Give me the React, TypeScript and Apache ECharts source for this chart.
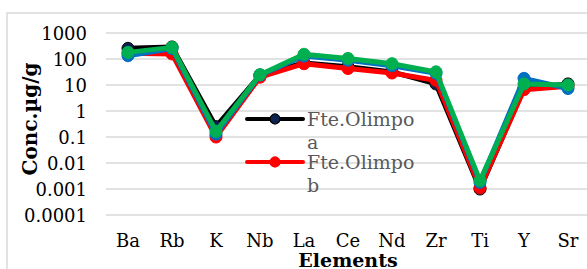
import React, { useEffect, useRef } from "react";
import * as echarts from "echarts";

const categories = ["Ba", "Rb", "K", "Nb", "La", "Ce", "Nd", "Zr", "Ti", "Y", "Sr"];
const seriesA = [257, 290, 0.25, 24, 70, 50, 32, 11, 0.001, 7.5, 11];
const seriesB = [165, 157, 0.1, 20, 66, 43, 29, 15, 0.0011, 6.6, 9];
const seriesC = [134, 250, 0.13, 24, 130, 90, 55, 28, 0.0018, 18, 7.3];
const seriesD = [180, 280, 0.165, 25, 152, 105, 66, 32, 0.0021, 11, 10];
const yTickLabels = ["0.0001", "0.001", "0.01", "0.1", "1", "10", "100", "1000"];
const legendNames = ["Fte.Olimpo a", "Fte.Olimpo b"];

const SERIF = "'DejaVu Serif', Georgia, serif";

export default function App() {
  const ref = useRef<HTMLDivElement>(null);
  useEffect(() => {
    if (!ref.current) return;
    const chart = echarts.init(ref.current, undefined, { renderer: "svg" });
    const mk = (name: string, data: number[], color: string, fill: string, z: number) => ({
      name,
      type: "line",
      data,
      z,
      symbol: "circle",
      symbolSize: 12,
      lineStyle: { color, width: 5 },
      itemStyle: { color: fill, borderColor: color, borderWidth: 1 },
    });
    const legendItem = (y: number, color: string, fill: string, name: string) => {
      const parts = name.split(" ");
      return [
        { type: "line", shape: { x1: 247, y1: y, x2: 303, y2: y }, style: { stroke: color, lineWidth: 4, lineCap: "round" }, z: 100 },
        { type: "circle", shape: { cx: 275, cy: y, r: 5 }, style: { fill, stroke: color, lineWidth: 1.2 }, z: 101 },
        { type: "text", x: 307, y: y + 9, style: { text: parts[0], font: `19px ${SERIF}`, lineHeight: 19, fill: "#595959", textAlign: "left", textVerticalAlign: "bottom" }, z: 101 },
        { type: "text", x: 307, y: y + 32, style: { text: parts[1], font: `19px ${SERIF}`, lineHeight: 19, fill: "#595959", textAlign: "left", textVerticalAlign: "bottom" }, z: 101 },
      ];
    };
    chart.setOption({
      animation: false,
      backgroundColor: "#fff",
      grid: { left: 106, right: -3, top: 33, bottom: 54, containLabel: false, outerBoundsMode: "none" },
      xAxis: {
        type: "category",
        data: categories,
        boundaryGap: true,
        axisLine: { show: false },
        axisTick: { show: false },
        axisLabel: { color: "#000", fontFamily: SERIF, fontSize: 18, margin: 16 },
      },
      yAxis: {
        type: "log",
        logBase: 10,
        min: 0.0001,
        max: 1000,
        splitNumber: 7,
        axisLine: { show: false },
        axisTick: { show: false },
        splitLine: { lineStyle: { color: "#d9d9d9", width: 1.5 } },
        axisLabel: {
          color: "#000",
          fontFamily: SERIF,
          fontSize: 18,
          margin: 19,
          formatter: (v: number) => {
            const e = Math.round(Math.log10(v));
            return yTickLabels[e + 4] ?? "";
          },
        },
      },
      series: [
        mk(legendNames[0], seriesA, "#000000", "#0d2251", 2),
        mk(legendNames[1], seriesB, "#ff0000", "#ff0000", 3),
        mk("Series3", seriesC, "#0070c0", "#0070c0", 4),
        mk("Series4", seriesD, "#00b050", "#00b050", 5),
      ],
      graphic: [
        { type: "rect", shape: { x: 7, y: 13, width: 700, height: 400 }, style: { fill: "none", stroke: "#d9d9d9", lineWidth: 1.5 }, z: 0, silent: true },
        { type: "text", x: 30, y: 119, rotation: Math.PI / 2, style: { text: "Conc.µg/g", font: `bold 20px ${SERIF}`, fill: "#000", textAlign: "center", textVerticalAlign: "middle" } },
        { type: "text", x: 348, y: 269, style: { text: "Elements", font: `bold 19px ${SERIF}`, lineHeight: 19, fill: "#000", textAlign: "center", textVerticalAlign: "bottom" } },
        ...legendItem(119, "#000000", "#0d2251", legendNames[0]),
        ...legendItem(162, "#ff0000", "#ff0000", legendNames[1]),
      ],
    });
    return () => chart.dispose();
  }, []);
  return <div ref={ref} style={{ position: "fixed", left: 0, top: 0, width: 587, height: 269 }} />;
}
